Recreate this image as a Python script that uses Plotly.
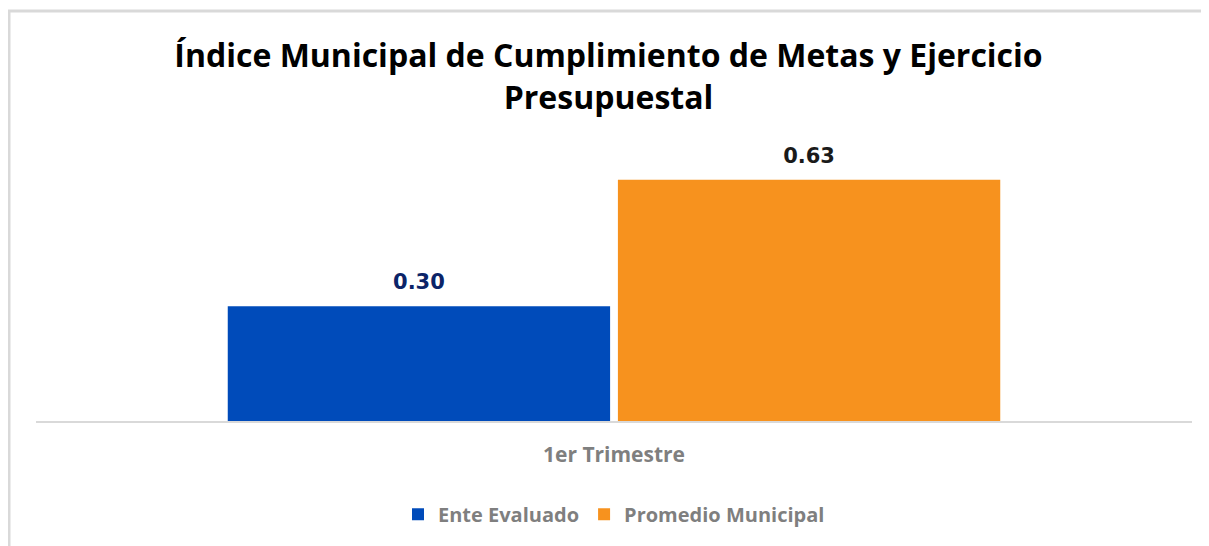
import plotly.graph_objects as go

categories = ["1er Trimestre"]
series_names = ["Ente Evaluado", "Promedio Municipal"]
ente_values = [0.30]
promedio_values = [0.63]
colors = ["#004BBA", "#F7921E"]
label_colors = ["#0B2468", "#1A1A1A"]

fig = go.Figure()
for name, vals, col, lcol in zip(series_names, [ente_values, promedio_values], colors, label_colors):
    fig.add_trace(go.Bar(
        x=categories, y=vals, name=name,
        marker=dict(color=col, line=dict(width=0)),
        text=[f"<span style='font-size:21px'>{v:.2f}</span><br> " for v in vals],
        texttemplate="%{text}",
        textposition="outside", cliponaxis=False,
        textfont=dict(family="DejaVu Sans", size=9, color=lcol, weight="bold"),
        hoverinfo="skip",
    ))

fig.update_layout(
    width=1201, height=538,
    margin=dict(l=28, r=17, t=145, b=123),
    paper_bgcolor="white", plot_bgcolor="white",
    barmode="group", bargap=0.325, bargroupgap=0.02,
    title=dict(
        text="Índice Municipal de Cumplimiento de Metas y Ejercicio<br>Presupuestal",
        x=0.5, xanchor="center", y=0.89, yanchor="top",
        font=dict(family="Open Sans", size=32, color="#000000", weight="bold"),
    ),
    showlegend=True,
    legend=dict(orientation="h", x=0.5, xanchor="center", y=-0.275, yanchor="top",
                font=dict(family="Open Sans", size=20, color="#7F7F7F", weight="bold"),
                traceorder="normal"),
    font=dict(family="Open Sans"),
)
fig.update_xaxes(showline=True, linecolor="#D9D9D9", linewidth=2,
                 tickfont=dict(family="Open Sans", size=21, color="#7F7F7F", weight="bold"),
                 ticks="", showgrid=False, ticklabelstandoff=14)
fig.update_yaxes(range=[0, 0.7], visible=False, showgrid=False, zeroline=False)

# outer chart border (left and top edges visible)
fig.add_shape(type="line", xref="paper", yref="paper", x0=-28/1156, x1=1.05, y0=1+143/270, y1=1+143/270,
              line=dict(color="#D9D9D9", width=3))
fig.add_shape(type="line", xref="paper", yref="paper", x0=-27/1156, x1=-27/1156, y0=1+143/270, y1=-0.6,
              line=dict(color="#D9D9D9", width=3))

fig.write_html("out.html")
